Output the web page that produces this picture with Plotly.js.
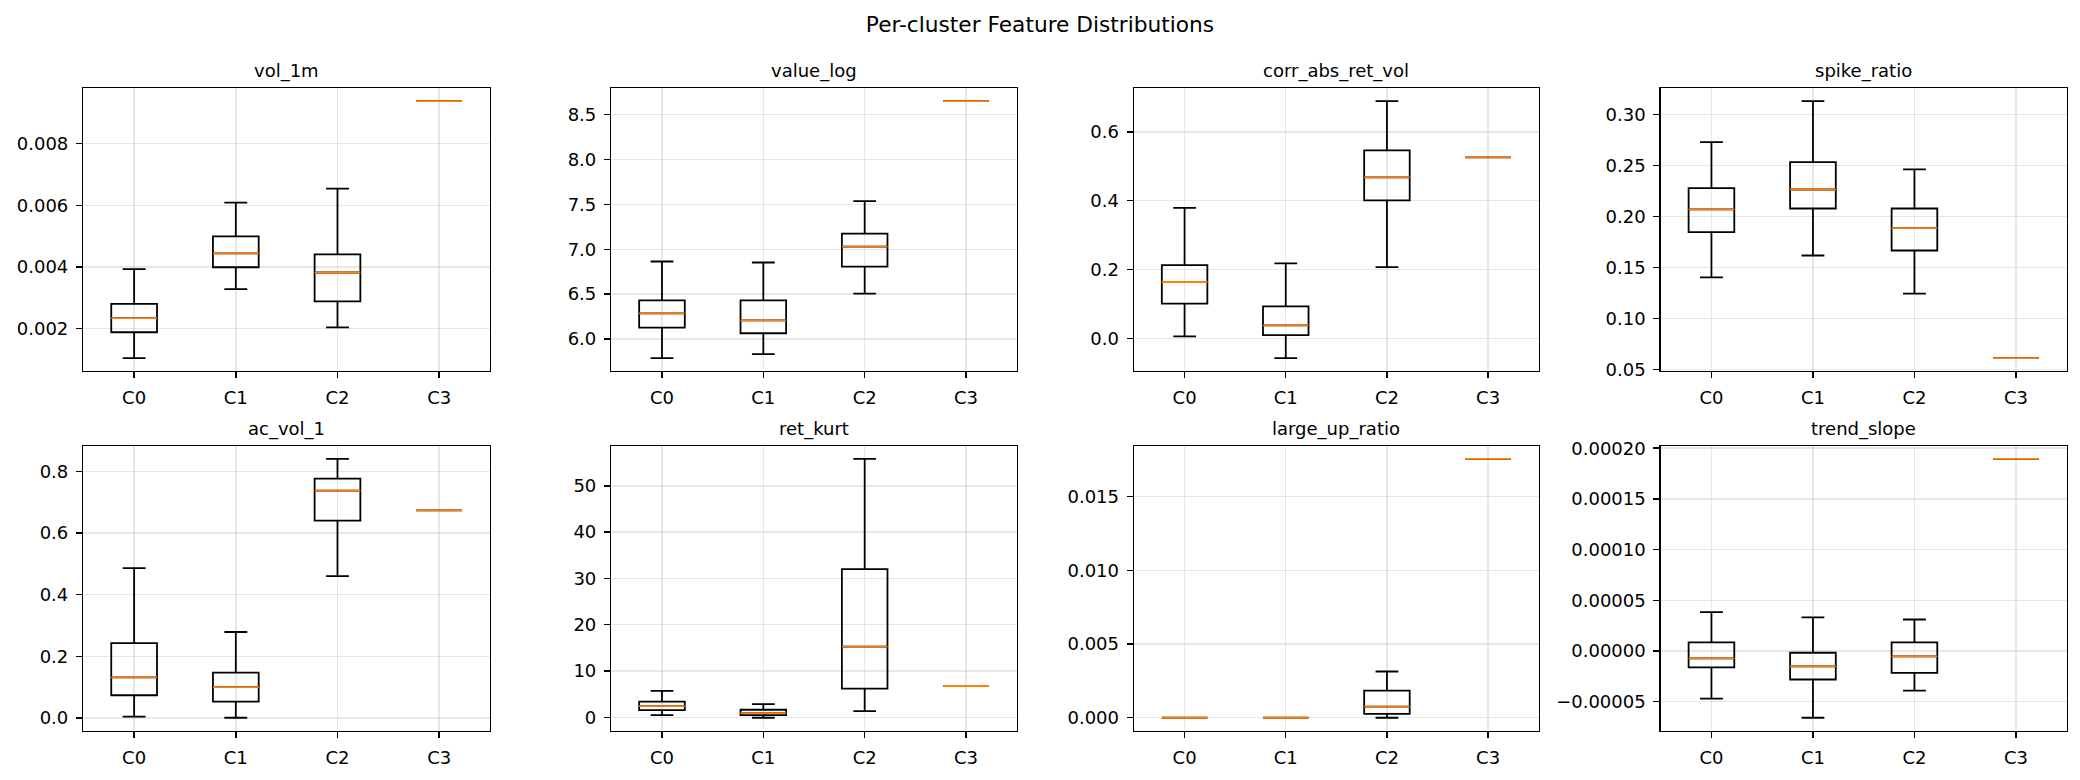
<!DOCTYPE html>
<html>
<head>
<meta charset="utf-8">
<script src="https://cdn.plot.ly/plotly-3.0.1.min.js"></script>
<style>
html,body{margin:0;padding:0;background:#fff;}
#chart{width:2080px;height:780px;}
</style>
</head>
<body>
<div id="chart"></div>
<script>
// ---------- data ----------
const categories = ['C0', 'C1', 'C2', 'C3'];
const features = ['vol_1m', 'value_log', 'corr_abs_ret_vol', 'spike_ratio',
                  'ac_vol_1', 'ret_kurt', 'large_up_ratio', 'trend_slope'];

const whiskerLow = [
  [0.00104, 0.00328, 0.00204, 0.00938],
  [5.785, 5.830, 6.504, 8.652],
  [0.006, -0.057, 0.207, 0.526],
  [0.1406, 0.162, 0.1247, 0.0614],
  [0.005, 0.001, 0.460, 0.673],
  [0.50, -0.07, 1.37, 6.79],
  [0.0, 0.0, 0.0, 0.01757],
  [-4.70e-5, -6.58e-5, -3.90e-5, 1.894e-4]
];
const q1 = [
  [0.00188, 0.00399, 0.00288, 0.00938],
  [6.126, 6.063, 6.807, 8.652],
  [0.101, 0.010, 0.401, 0.526],
  [0.185, 0.2081, 0.1669, 0.0614],
  [0.074, 0.053, 0.640, 0.673],
  [1.59, 0.50, 6.21, 6.79],
  [0.0, 0.0, 0.00027, 0.01757],
  [-1.62e-5, -2.81e-5, -2.15e-5, 1.894e-4]
];
const median = [
  [0.00234, 0.00444, 0.00382, 0.00938],
  [6.285, 6.207, 7.030, 8.652],
  [0.164, 0.038, 0.468, 0.526],
  [0.2072, 0.2267, 0.1889, 0.0614],
  [0.132, 0.100, 0.737, 0.673],
  [2.46, 0.94, 15.3, 6.79],
  [0.0, 0.0, 0.00075, 0.01757],
  [-0.73e-5, -1.52e-5, -0.53e-5, 1.894e-4]
];
const q3 = [
  [0.00280, 0.00499, 0.00441, 0.00938],
  [6.430, 6.430, 7.174, 8.652],
  [0.213, 0.093, 0.546, 0.526],
  [0.228, 0.2536, 0.2081, 0.0614],
  [0.243, 0.147, 0.776, 0.673],
  [3.40, 1.66, 32.0, 6.79],
  [0.0, 0.0, 0.00184, 0.01757],
  [0.86e-5, -0.17e-5, 0.86e-5, 1.894e-4]
];
const whiskerHigh = [
  [0.00393, 0.00609, 0.00654, 0.00938],
  [6.863, 6.852, 7.537, 8.652],
  [0.379, 0.218, 0.689, 0.526],
  [0.2731, 0.3133, 0.2464, 0.0614],
  [0.486, 0.279, 0.840, 0.673],
  [5.74, 2.89, 55.8, 6.79],
  [0.0, 0.0, 0.00314, 0.01757],
  [3.84e-5, 3.31e-5, 3.11e-5, 1.894e-4]
];
const yTickStep = [0.002, 0.5, 0.2, 0.05, 0.2, 10, 0.005, 0.00005];
const yTickFormat = ['.3f', '.1f', '.1f', '.2f', '.1f', 'd', '.3f', '.5f'];

// ---------- layout geometry (pixels) ----------
const W = 2080, H = 780;
const colPx = [[83.3, 490], [611.3, 1016.7], [1134, 1538.7], [1660.7, 2066.7]];
const rowPx = [[88.3, 371], [446, 730.7]];
const BOXW = 0.45;
const FONT = 'DejaVu Sans, Liberation Sans, sans-serif';

const xpos = categories.map((c, i) => i);
const traces = [];
const medTraces = [];
const layout = {
  width: W, height: H,
  margin: {l: 0, r: 0, t: 0, b: 0},
  paper_bgcolor: '#fff', plot_bgcolor: '#fff',
  showlegend: false,
  font: {family: FONT, size: 18, color: '#000'},
  title: {text: 'Per-cluster Feature Distributions', x: 0.5, xanchor: 'center',
          y: 1 - 24 / H, yanchor: 'middle', yref: 'container',
          font: {family: FONT, size: 21.7, color: '#000'}},
  annotations: []
};

features.forEach((name, k) => {
  const r = Math.floor(k / 4), c = k % 4;
  const ax = k === 0 ? '' : String(k + 1);
  const xa = 'x' + ax, ya = 'y' + ax;

  traces.push({
    type: 'box', xaxis: xa, yaxis: ya,
    x: xpos,
    q1: q1[k], median: median[k], q3: q3[k],
    lowerfence: whiskerLow[k], upperfence: whiskerHigh[k],
    width: BOXW, whiskerwidth: 0.5,
    boxpoints: false,
    line: {color: '#000', width: 1.8},
    fillcolor: 'rgba(255,255,255,0)',
    hoverinfo: 'skip'
  });

  const mx = [], my = [];
  xpos.forEach((p, i) => {
    mx.push(p - BOXW / 2, p + BOXW / 2, null);
    my.push(median[k][i], median[k][i], null);
  });
  medTraces.push({
    type: 'scatter', mode: 'lines', xaxis: xa, yaxis: ya,
    x: mx, y: my, line: {color: '#ff7f0e', width: 1.8},
    hoverinfo: 'skip'
  });

  const lo = Math.min(...whiskerLow[k]), hi = Math.max(...whiskerHigh[k]);
  const pad = (hi - lo) * 0.05;

  const common = {
    showline: true, mirror: true, linecolor: '#000', linewidth: 1.4,
    ticks: 'outside', ticklen: 6, tickwidth: 1.4, tickcolor: '#000',
    showgrid: true, gridcolor: 'rgba(176,176,176,0.3)', gridwidth: 1.4,
    zeroline: false,
    tickfont: {family: FONT, size: 18, color: '#000'}
  };
  layout['xaxis' + ax] = Object.assign({}, common, {
    domain: [colPx[c][0] / W, colPx[c][1] / W],
    anchor: ya, range: [-0.5, 3.5], fixedrange: true,
    tickmode: 'array', tickvals: xpos, ticktext: categories,
    ticklabelstandoff: 4
  });
  layout['yaxis' + ax] = Object.assign({}, common, {
    domain: [1 - rowPx[r][1] / H, 1 - rowPx[r][0] / H],
    anchor: xa, range: [lo - pad, hi + pad], fixedrange: true,
    tick0: 0, dtick: yTickStep[k], tickformat: yTickFormat[k],
    ticklabelstandoff: 4
  });

  layout.annotations.push({
    text: name, xref: 'paper', yref: 'paper',
    x: (colPx[c][0] + colPx[c][1]) / 2 / W, xanchor: 'center',
    y: 1 - (rowPx[r][0] - 17) / H, yanchor: 'middle',
    showarrow: false, font: {family: FONT, size: 18, color: '#000'}
  });
});

Plotly.newPlot('chart', traces.concat(medTraces), layout, {displayModeBar: false, staticPlot: true});
</script>
</body>
</html>
